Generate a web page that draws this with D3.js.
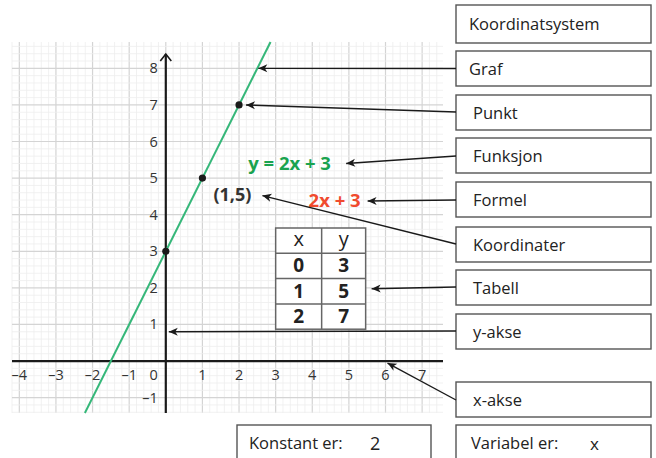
<!DOCTYPE html>
<html>
<head>
<meta charset="utf-8">
<script src="https://cdn.jsdelivr.net/npm/d3@7"></script>
<style>
  body { margin: 0; background: #fff; }
  text { font-family: "Open Sans", "Noto Sans", sans-serif; }
</style>
</head>
<body>
<div id="chart-area"></div>
<script>

// Data
let tableX = [0, 1, 2];
let tableY = [3, 5, 7];
let slope = 2;
let constant = 3;
let xTicks = [-4, -3, -2, -1, 1, 2, 3, 4, 5, 6, 7];
let yTicks = [-1, 1, 2, 3, 4, 5, 6, 7, 8];
let boxLabels = ["Koordinatsystem", "Graf", "Punkt", "Funksjon", "Formel", "Koordinater", "Tabell", "y-akse", "x-akse"];
let boxTops = [5, 51, 95, 138, 182, 227, 270, 314, 382];

let width = 656, height = 458;

let svg = d3.select("#chart-area").append("svg")
    .attr("width", width)
    .attr("height", height);

svg.append("rect").attr("width", width).attr("height", height).attr("fill", "#fff");

// Scales
let x = d3.scaleLinear().domain([-4.2, 7.57]).range([12, 443]);
let y = d3.scaleLinear().domain([-1.42, 8.72]).range([413, 42]);

// arrow marker
let defs = svg.append("defs");
defs.append("marker")
    .attr("id", "arr")
    .attr("markerUnits", "userSpaceOnUse")
    .attr("viewBox", "-10 -5 12 10")
    .attr("refX", 0).attr("refY", 0)
    .attr("markerWidth", 12).attr("markerHeight", 10)
    .attr("orient", "auto")
  .append("path")
    .attr("d", "M0,0 L-9,-4 L-6.5,0 L-9,4 Z")
    .attr("fill", "#1a1a1a");

// Grid
let grid = svg.append("g");
let minorX = d3.range(-21, 38).map(d => d / 5);
let minorY = d3.range(-7, 44).map(d => d / 5);
let isMajor = d => Math.abs(d - Math.round(d)) < 1e-6;

grid.selectAll(".vminor").data(minorX).enter().append("line")
    .attr("x1", d => x(d)).attr("x2", d => x(d))
    .attr("y1", y.range()[0]).attr("y2", y.range()[1])
    .attr("stroke", d => isMajor(d) ? "#d4d4d4" : "#ededed")
    .attr("stroke-width", d => isMajor(d) ? 1.2 : 0.8);

grid.selectAll(".hminor").data(minorY).enter().append("line")
    .attr("y1", d => y(d)).attr("y2", d => y(d))
    .attr("x1", x.range()[0]).attr("x2", x.range()[1])
    .attr("stroke", d => isMajor(d) ? "#d4d4d4" : "#ededed")
    .attr("stroke-width", d => isMajor(d) ? 1.2 : 0.8);

// Axes
svg.append("line")
    .attr("x1", x.range()[0]).attr("x2", x.range()[1])
    .attr("y1", y(0)).attr("y2", y(0))
    .attr("stroke", "#1a1a1a").attr("stroke-width", 2.2);

svg.append("line")
    .attr("x1", x(0)).attr("x2", x(0))
    .attr("y1", y.range()[0]).attr("y2", 54)
    .attr("stroke", "#1a1a1a").attr("stroke-width", 2.2);

svg.append("path")
    .attr("d", "M" + (x(0) - 5.5) + "," + 61 + " L" + x(0) + "," + 54 + " L" + (x(0) + 5.5) + "," + 61)
    .attr("fill", "none").attr("stroke", "#1a1a1a").attr("stroke-width", 1.6);

// Tick labels
svg.selectAll(".xlab").data(xTicks).enter().append("text")
    .attr("x", d => x(d)).attr("y", y(0) + 19)
    .attr("text-anchor", "middle")
    .attr("font-size", 14.5).attr("fill", "#333")
    .text(d => d < 0 ? "\u2013" + Math.abs(d) : d);

svg.selectAll(".ylab").data(yTicks).enter().append("text")
    .attr("x", x(0) - 8).attr("y", d => y(d) + 5)
    .attr("text-anchor", "end")
    .attr("font-size", 14.5).attr("fill", "#333")
    .text(d => d < 0 ? "\u2013" + Math.abs(d) : d);

svg.append("text")
    .attr("x", x(0) - 8).attr("y", y(0) + 19)
    .attr("text-anchor", "end")
    .attr("font-size", 14.5).attr("fill", "#333")
    .text("0");

// Graph line y = 2x + 3
let yLo = y.domain()[0], yHi = y.domain()[1];
svg.append("line")
    .attr("x1", x((yLo - constant) / slope)).attr("y1", y(yLo))
    .attr("x2", x((yHi - constant) / slope)).attr("y2", y(yHi))
    .attr("stroke", "#35b779").attr("stroke-width", 2);

// Points
svg.selectAll(".pt").data(tableX).enter().append("circle")
    .attr("cx", d => x(d))
    .attr("cy", (d, i) => y(tableY[i]))
    .attr("r", 3.6)
    .attr("fill", "#1a1a1a");

// Annotations
svg.append("text")
    .attr("x", x(2.25)).attr("y", y(5.4) + 6.5)
    .attr("font-size", 18.5).attr("font-weight", "bold").attr("fill", "#1aa34f")
    .text("y = 2x + 3");

svg.append("text")
    .attr("x", x(3.9)).attr("y", y(4.4) + 6.5)
    .attr("font-size", 18.5).attr("font-weight", "bold").attr("fill", "#f04b2e")
    .text("2x + 3");

svg.append("text")
    .attr("x", x(1.3)).attr("y", y(4.55) + 6.5)
    .attr("font-size", 18).attr("font-weight", "bold").attr("fill", "#333")
    .text("(1,5)");

// Table
let tx0 = x(3), colW = [46, 44], rowH = 25.3, ty0 = 228;
let table = svg.append("g");
let rows = [["x", "y"]].concat(tableX.map((d, i) => [d, tableY[i]]));
table.append("rect")
    .attr("x", tx0).attr("y", ty0)
    .attr("width", colW[0] + colW[1]).attr("height", rowH * rows.length)
    .attr("fill", "#fff").attr("stroke", "#666").attr("stroke-width", 1.5);
rows.forEach((r, i) => {
  if (i > 0) {
    table.append("line")
        .attr("x1", tx0).attr("x2", tx0 + colW[0] + colW[1])
        .attr("y1", ty0 + rowH * i).attr("y2", ty0 + rowH * i)
        .attr("stroke", "#666").attr("stroke-width", 1.5);
  }
  r.forEach((v, j) => {
    table.append("text")
        .attr("x", tx0 + (j == 0 ? colW[0] / 2 : colW[0] + colW[1] / 2))
        .attr("y", ty0 + rowH * i + rowH / 2 + (i == 0 ? 5 : 6.5))
        .attr("text-anchor", "middle")
        .attr("font-size", i == 0 ? 20 : 19)
        .attr("font-weight", i == 0 ? "normal" : "bold")
        .attr("fill", "#222")
        .text(v);
  });
});
table.append("line")
    .attr("x1", tx0 + colW[0]).attr("x2", tx0 + colW[0])
    .attr("y1", ty0).attr("y2", ty0 + rowH * rows.length)
    .attr("stroke", "#666").attr("stroke-width", 1.5);

// Label boxes on the right
let bx = 456, bw = 195, bh = 35;
let boxes = svg.selectAll(".box").data(boxLabels).enter().append("g");
boxes.append("rect")
    .attr("x", bx).attr("y", (d, i) => boxTops[i])
    .attr("width", bw).attr("height", (d, i) => i == 0 ? 38 : bh)
    .attr("fill", "#fff").attr("stroke", "#555").attr("stroke-width", 1.4);
boxes.append("text")
    .attr("x", (d, i) => bx + (i == 0 || i == 1 ? 13 : 17))
    .attr("y", (d, i) => boxTops[i] + (i == 0 ? 25 : 24))
    .attr("font-size", 16.5).attr("fill", "#222")
    .text(d => d);

// Arrows from boxes to targets
let tips = [
  null,
  [x(2.5) + 1, y(8)],
  [x(2) + 7, y(7)],
  [x(2.25) + 98, y(5.4) + 0],
  [x(3.9) + 59, y(4.4) + 1],
  [x(1.3) + 49, y(4.55) + 1],
  [tx0 + colW[0] + colW[1] + 6, ty0 + rowH * 2.4],
  [x(0) + 3, y(0.8)],
  [x(6) + 2, y(0) + 2]
];
let starts = [null, 68.5, 112, 156, 200, 244, 287, 331, 400];
tips.forEach((t, i) => {
  if (!t) return;
  svg.append("line")
      .attr("x1", bx).attr("y1", starts[i])
      .attr("x2", t[0]).attr("y2", t[1])
      .attr("stroke", "#1a1a1a").attr("stroke-width", 1.4)
      .attr("marker-end", "url(#arr)");
});

// Bottom boxes
svg.append("rect")
    .attr("x", 237).attr("y", 425).attr("width", 194).attr("height", 45)
    .attr("fill", "#fff").attr("stroke", "#555").attr("stroke-width", 1.4);
svg.append("text").attr("x", 249).attr("y", 449)
    .attr("font-size", 16.5).attr("fill", "#222").text("Konstant er:");
svg.append("text").attr("x", 370).attr("y", 450)
    .attr("font-size", 18).attr("fill", "#222").text(slope);

svg.append("rect")
    .attr("x", bx).attr("y", 425).attr("width", bw).attr("height", 45)
    .attr("fill", "#fff").attr("stroke", "#555").attr("stroke-width", 1.4);
svg.append("text").attr("x", 471).attr("y", 449)
    .attr("font-size", 16.5).attr("fill", "#222").text("Variabel er:");
svg.append("text").attr("x", 590).attr("y", 450)
    .attr("font-size", 17).attr("fill", "#222").text("x");

</script>
</body>
</html>
